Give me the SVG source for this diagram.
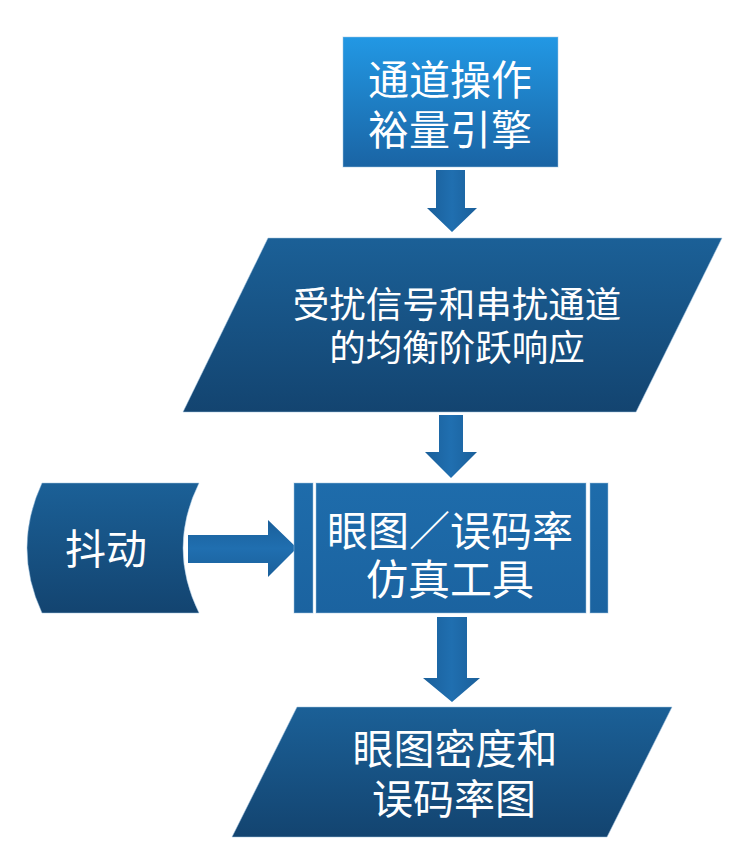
<svg xmlns="http://www.w3.org/2000/svg" width="749" height="865" viewBox="0 0 749 865">
  <defs>
    <linearGradient id="gTop" x1="0" y1="0" x2="0" y2="1">
      <stop offset="0" stop-color="#2298e4"/>
      <stop offset="1" stop-color="#1a64a4"/>
    </linearGradient>
    <linearGradient id="gPara" x1="0" y1="0" x2="0" y2="1">
      <stop offset="0" stop-color="#1b6097"/>
      <stop offset="1" stop-color="#134470"/>
    </linearGradient>
    <linearGradient id="gMid" x1="0" y1="0" x2="0" y2="1">
      <stop offset="0" stop-color="#1e6cab"/>
      <stop offset="1" stop-color="#1b63a0"/>
    </linearGradient>
    <linearGradient id="gArrowV" x1="0" y1="0" x2="1" y2="0">
      <stop offset="0" stop-color="#1a5f9a"/>
      <stop offset="0.5" stop-color="#206fb0"/>
      <stop offset="1" stop-color="#1a5f9a"/>
    </linearGradient>
    <linearGradient id="gArrowH" x1="0" y1="0" x2="0" y2="1">
      <stop offset="0" stop-color="#1a5f9a"/>
      <stop offset="0.5" stop-color="#206fb0"/>
      <stop offset="1" stop-color="#1a5f9a"/>
    </linearGradient>
  </defs>
  <style>
    .lbl { font-family: "Noto Sans CJK SC", "Noto Sans", sans-serif; fill: #ffffff; text-anchor: middle; }
    .edge { stroke: #9fc3e2; stroke-opacity: 0.5; stroke-width: 1; }
  </style>
  <rect width="749" height="865" fill="#ffffff"/>

  <g id="connectors">
    <path d="M436,170 H465 V208 H477 L452,232 L427,208 H436 Z" fill="url(#gArrowV)"/>
    <path d="M439,415 H463 V452 H477 L451,478 L425,452 H439 Z" fill="url(#gArrowV)"/>
    <path d="M188,535 H268 V520 L297,548 L268,577 V563 H188 Z" fill="url(#gArrowH)"/>
    <path d="M437,617 H467 V678 H480 L452,702 L423,678 H437 Z" fill="url(#gArrowV)"/>
  </g>

  <g id="node-engine">
    <rect x="343" y="37" width="215" height="130" fill="url(#gTop)" class="edge"/>
    <text class="lbl" x="450" y="95" font-size="41">通道操作</text>
    <text class="lbl" x="450" y="145" font-size="41">裕量引擎</text>
  </g>

  <g id="node-step-response">
    <path d="M268,238 H722 L636,412 H183 Z" fill="url(#gPara)" class="edge"/>
    <text class="lbl" x="457" y="318" font-size="36.5">受扰信号和串扰通道</text>
    <text class="lbl" x="457" y="361" font-size="36.5">的均衡阶跃响应</text>
  </g>

  <g id="node-jitter">
    <path d="M42,483 H199 Q167,548 199,613 H42 Q12,548 42,483 Z" fill="url(#gPara)" class="edge"/>
    <text class="lbl" x="106" y="564" font-size="41">抖动</text>
  </g>

  <g id="node-simulator">
    <rect x="294" y="483" width="19" height="130" fill="url(#gMid)" class="edge"/>
    <rect x="316" y="483" width="270" height="130" fill="url(#gMid)" class="edge"/>
    <rect x="590" y="483" width="18" height="130" fill="url(#gMid)" class="edge"/>
    <text class="lbl" x="450" y="546" font-size="41">眼图／误码率</text>
    <text class="lbl" x="450" y="595" font-size="42">仿真工具</text>
  </g>

  <g id="node-eye-density">
    <path d="M297,707 H672 L607,837 H232 Z" fill="url(#gPara)" class="edge"/>
    <text class="lbl" x="455" y="764" font-size="41">眼图密度和</text>
    <text class="lbl" x="454" y="814" font-size="41">误码率图</text>
  </g>
</svg>
